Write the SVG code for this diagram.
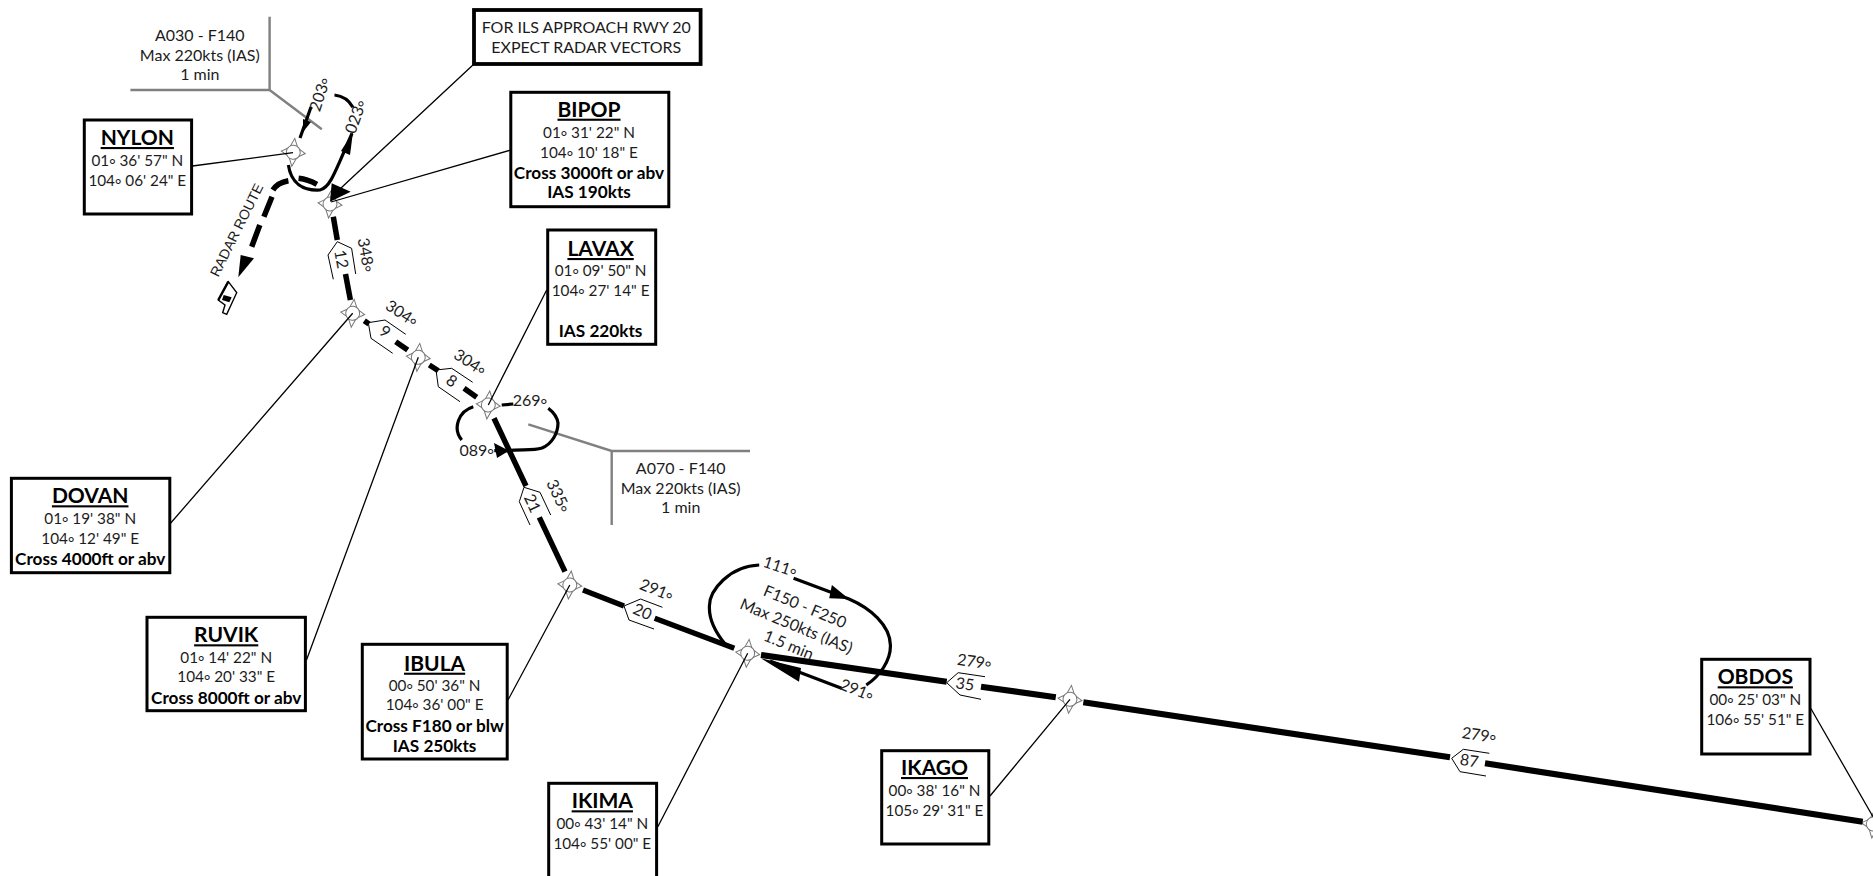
<svg xmlns="http://www.w3.org/2000/svg" width="1873" height="876" viewBox="0 0 1873 876">
<style>
text{font-family:"Lato","Liberation Sans",sans-serif;fill:#1c1c1c;text-anchor:middle}
.t{font-size:16px}
.c{font-size:15.3px}
.b{font-size:17.2px;font-weight:700;fill:#000}
.n{font-size:21px;font-weight:700;fill:#000;text-decoration:underline}
.box{fill:#fff;stroke:#000;stroke-width:3}
.lead{fill:none;stroke:#000;stroke-width:1.3}
.grey{fill:none;stroke:#808080;stroke-width:2.4}
.tr{fill:none;stroke:#000;stroke-width:5.5}
.tr3{fill:none;stroke:#000;stroke-width:6.2}
.tr2{fill:none;stroke:#000;stroke-width:3.2}
.chev{fill:none;stroke:#000;stroke-width:1}
.star{fill:#fff;stroke:#777;stroke-width:1}
</style>
<defs>
<g id="wp"><path class="star" d="M-3.5-6 0-14 3.5-6ZM6-3.5 12 0 6 3.5ZM-3.5 6 0 14 3.5 6ZM-6-3.5-12 0-6 3.5Z"/><circle class="star" r="7"/></g>
</defs>
<g id="wp-nylon"><use href="#wp" transform="translate(293.3 152.3) rotate(6)"/></g>
<g id="wp-bipop"><use href="#wp" transform="translate(330 204) rotate(6)"/></g>
<g id="wp-dovan"><use href="#wp" transform="translate(352.7 313.3) rotate(6)"/></g>
<g id="wp-ruvik"><use href="#wp" transform="translate(418.3 357.3) rotate(6)"/></g>
<g id="wp-lavax"><use href="#wp" transform="translate(488.3 405) rotate(6)"/></g>
<g id="wp-ibula"><use href="#wp" transform="translate(569.8 585) rotate(6)"/></g>
<g id="wp-ikima"><use href="#wp" transform="translate(747.7 653.3) rotate(6)"/></g>
<g id="wp-ikago"><use href="#wp" transform="translate(1070 699.3) rotate(6)"/></g>
<g id="wp-obdos"><use href="#wp" transform="translate(1873.3 824) rotate(6)"/></g>
<g id="connectors">
<path class="grey" d="M269.6 16.7V90H130.4M269.6 90 321.8 129.3"/>
<path class="grey" d="M528.3 424.3 611.7 451H750M611.7 451V525"/>
<path class="lead" d="M192.4 166 293 152.7M510.8 150 331 202M474 64 341 188M170.5 523.3 352.7 313.3M306.5 660 418.3 357.3M546.7 290 488.3 405M508 700 569.8 585M657.8 826.7 747.7 653.3M990 796 1070 699.3M1810.7 708.3 1873 816.7"/>
<path d="M330 201.7 331.7 183.3 350.7 191.7Z" fill="#000"/>
<path class="tr2" d="M288.4 165C291 183 303 191 320 190 330 188 335 172 352 133.3"/>
<path d="M353 132 341 151 350 155Z" fill="#000"/>
<path class="tr2" d="M352.9 107.3C349 100 343 96 334.5 95M311 107 300 138"/>
<path d="M303 132 303 119 311 122Z" fill="#000"/>
<path class="tr" d="M298.6 178.3C305 179 311 181 316.9 184.3M288.4 180.7C281 182 276 185 272.9 190M272 196.7 263.9 216.7M259.8 225 251.7 246.7"/>
<path d="M238.3 277.3 240.7 255 254 258.3Z" fill="#000"/>
<path class="tr" d="M333.3 216.7 337.3 240M345.5 274 350.4 300M364.3 320.7 369 324M395.7 341.7 407.7 350M429.3 365 438.3 370.7M464 388.3 476.7 397.3"/>
<path class="tr2" d="M473.3 406.7C459 411 452 428 461.7 440M494.3 450.7H508C520 449 533 451 542 448 552 444 558 433 558 423 557 416 553 412 548.3 408.3M501.7 405 513.3 404"/>
<path d="M509 450.7 494 443 497 458Z" fill="#000"/>
<path class="tr" d="M494 418.3 526 486M539.3 517.3 565 571.7M583 590 624 606M654.7 618.3 734.3 648.3"/>
<path class="tr3" d="M761 655 946.7 681.7M981 686.7 1055.8 697.3M1083.3 702.3 1450 757.3M1485 763.3 1862.7 821.7"/>
<path class="tr2" d="M725.9 645C715 632 709 618 709.4 606.7 709 590 730 566 759.2 565M793.6 578.3 849 599C870 608 890 625 890.4 645 891 660 880 676 866.3 685M841.5 688.3 770 661"/>
<path d="M849 599 831.9 585 829.2 598.3Z M761 658.3 801 668 799 681.7Z" fill="#000"/>
</g>
<g id="distance-marks">
<path class="chev" d="M355.7 274 351.6 248.3 337.3 241.7 328 255 333.3 279.3"/>
<path class="chev" d="M405.7 334.3 385 320 368.3 322.7 371 338.3 392.7 353.3"/>
<path class="chev" d="M472.7 382.3 451.7 368.3 436 370 438.3 386.7 460 401.7"/>
<path class="chev" d="M550.7 515 540 492.3 524 487.3 519.3 501.7 530 525"/>
<path class="chev" d="M662.4 607.3 640.6 599 624 606 629 620 654 629"/>
<path class="chev" d="M985 676.7 958.2 672.7 946.7 682.7 960 695 981 699.3"/>
<path class="chev" d="M1489.3 753.3 1463.3 749.3 1451.7 758.3 1460 771.7 1486 776"/>
<g class="t">
<text transform="translate(341.4 259.3) rotate(80)" y="5.5">12</text>
<text transform="translate(366 255) rotate(80)" y="5.5">348<tspan dy="4">°</tspan></text>
<text transform="translate(385 331.7) rotate(35)" y="5.5">9</text>
<text transform="translate(401.7 313.3) rotate(33)" y="5.5">304<tspan dy="4">°</tspan></text>
<text transform="translate(451.7 381) rotate(35)" y="5.5">8</text>
<text transform="translate(470 362.3) rotate(33)" y="5.5">304<tspan dy="4">°</tspan></text>
<text transform="translate(532.3 503.3) rotate(65)" y="5.5">21</text>
<text transform="translate(558.3 496) rotate(65)" y="5.5">335<tspan dy="4">°</tspan></text>
<text transform="translate(642.5 611.7) rotate(24)" y="5.5">20</text>
<text transform="translate(656.6 590) rotate(22)" y="5.5">291<tspan dy="4">°</tspan></text>
<text transform="translate(965 684) rotate(8)" y="5.5">35</text>
<text transform="translate(974.3 661.7) rotate(8)" y="5.5">279<tspan dy="4">°</tspan></text>
<text transform="translate(1469.3 760.7) rotate(8)" y="5.5">87</text>
<text transform="translate(1479 735) rotate(8)" y="5.5">279<tspan dy="4">°</tspan></text>
<text transform="translate(355.7 116.7) rotate(-70)" y="5.5">023<tspan dy="4">°</tspan></text>
<text transform="translate(319.8 94.3) rotate(-72)" y="5.5">203<tspan dy="4">°</tspan></text>
<text x="530" y="406">269<tspan dy="4">°</tspan></text>
<text x="476.7" y="456">089<tspan dy="4">°</tspan></text>
<text transform="translate(780 566.7) rotate(18)" y="5.5">111<tspan dy="4">°</tspan></text>
<text transform="translate(856.8 690) rotate(22)" y="5.5">291<tspan dy="4">°</tspan></text>
<text transform="translate(805 606.7) rotate(22.5)" y="5.5">F150 - F250</text>
<text transform="translate(796.3 626) rotate(22.5)" y="5.5">Max 250kts (IAS)</text>
<text transform="translate(788.7 645) rotate(22.5)" y="5.5">1.5 min</text>
<text x="199.8" y="40.7">A030 - F140</text>
<text x="199.8" y="60.7">Max 220kts (IAS)</text>
<text x="199.8" y="80">1 min</text>
<text x="680.7" y="474">A070 - F140</text>
<text x="680.7" y="494">Max 220kts (IAS)</text>
<text x="680.7" y="513.3">1 min</text>
<text transform="translate(236.5 230) rotate(-63.4)" y="5" style="font-family:'Liberation Sans',sans-serif;font-size:14px">RADAR ROUTE</text>
</g>
</g>
<g id="faf-symbol">
<path d="M228.3 281.7 236.7 292.7 226.7 314.3 222.7 312.7 225 305 218.3 300Z" fill="#fff" stroke="#000" stroke-width="1.4"/>
<path d="M223.7 295 231.7 297.3 229.3 302.3 222 300Z" fill="#000"/>
<path d="M228.3 281.7 218.3 300" fill="none" stroke="#000" stroke-width="2.4"/>
</g>
<g id="note"><rect class="box" x="474" y="10" width="226.6" height="54" style="stroke-width:3.8"/><text class="t" x="586.3" y="32.7">FOR ILS APPROACH RWY 20</text><text class="t" x="586.3" y="52.7">EXPECT RADAR VECTORS</text></g>
<g id="nylon"><rect class="box" x="84.3" y="120" width="107.3" height="94"/><text class="n" x="137.3" y="145">NYLON</text><text class="c" x="137.3" y="165.7">01<tspan dy="4">°</tspan><tspan dy="-4"> 36' 57" N</tspan></text><text class="c" x="137.3" y="185.7">104<tspan dy="4">°</tspan><tspan dy="-4"> 06' 24" E</tspan></text></g>
<g id="bipop"><rect class="box" x="510.8" y="92.3" width="158" height="114.4"/><text class="n" x="589" y="116.7">BIPOP</text><text class="c" x="589" y="138">01<tspan dy="4">°</tspan><tspan dy="-4"> 31' 22" N</tspan></text><text class="c" x="589" y="158">104<tspan dy="4">°</tspan><tspan dy="-4"> 10' 18" E</tspan></text><text class="b" x="589" y="179.3">Cross 3000ft or abv</text><text class="b" x="589" y="198.3">IAS 190kts</text></g>
<g id="lavax"><rect class="box" x="547.7" y="230" width="108" height="114.3"/><text class="n" x="600.6" y="256">LAVAX</text><text class="c" x="600.6" y="276">01<tspan dy="4">°</tspan><tspan dy="-4"> 09' 50" N</tspan></text><text class="c" x="600.6" y="296">104<tspan dy="4">°</tspan><tspan dy="-4"> 27' 14" E</tspan></text><text class="b" x="600.6" y="337">IAS 220kts</text></g>
<g id="dovan"><rect class="box" x="11.4" y="478.3" width="158.4" height="94.4"/><text class="n" x="90.2" y="503.3">DOVAN</text><text class="c" x="90.2" y="524">01<tspan dy="4">°</tspan><tspan dy="-4"> 19' 38" N</tspan></text><text class="c" x="90.2" y="544">104<tspan dy="4">°</tspan><tspan dy="-4"> 12' 49" E</tspan></text><text class="b" x="90.2" y="565">Cross 4000ft or abv</text></g>
<g id="ruvik"><rect class="box" x="147" y="617.3" width="158.4" height="93.4"/><text class="n" x="226.2" y="642.3">RUVIK</text><text class="c" x="226.2" y="662.7">01<tspan dy="4">°</tspan><tspan dy="-4"> 14' 22" N</tspan></text><text class="c" x="226.2" y="682">104<tspan dy="4">°</tspan><tspan dy="-4"> 20' 33" E</tspan></text><text class="b" x="226.2" y="704">Cross 8000ft or abv</text></g>
<g id="ibula"><rect class="box" x="362.3" y="644.3" width="144.9" height="114.7"/><text class="n" x="434.6" y="670.7">IBULA</text><text class="c" x="434.6" y="690.5">00<tspan dy="4">°</tspan><tspan dy="-4"> 50' 36" N</tspan></text><text class="c" x="434.6" y="710">104<tspan dy="4">°</tspan><tspan dy="-4"> 36' 00" E</tspan></text><text class="b" x="434.6" y="731.5">Cross F180 or blw</text><text class="b" x="434.6" y="752">IAS 250kts</text></g>
<g id="ikima"><rect class="box" x="548.7" y="783.3" width="107.9" height="110"/><text class="n" x="602.3" y="808.3">IKIMA</text><text class="c" x="602.3" y="829.3">00<tspan dy="4">°</tspan><tspan dy="-4"> 43' 14" N</tspan></text><text class="c" x="602.3" y="849.3">104<tspan dy="4">°</tspan><tspan dy="-4"> 55' 00" E</tspan></text></g>
<g id="ikago"><rect class="box" x="881.7" y="750.7" width="107.1" height="93.3"/><text class="n" x="934.5" y="775">IKAGO</text><text class="c" x="934.5" y="796">00<tspan dy="4">°</tspan><tspan dy="-4"> 38' 16" N</tspan></text><text class="c" x="934.5" y="816">105<tspan dy="4">°</tspan><tspan dy="-4"> 29' 31" E</tspan></text></g>
<g id="obdos"><rect class="box" x="1701.7" y="659.3" width="108.3" height="94.7"/><text class="n" x="1755.3" y="684.3">OBDOS</text><text class="c" x="1755.3" y="705">00<tspan dy="4">°</tspan><tspan dy="-4"> 25' 03" N</tspan></text><text class="c" x="1755.3" y="725">106<tspan dy="4">°</tspan><tspan dy="-4"> 55' 51" E</tspan></text></g>
</svg>
